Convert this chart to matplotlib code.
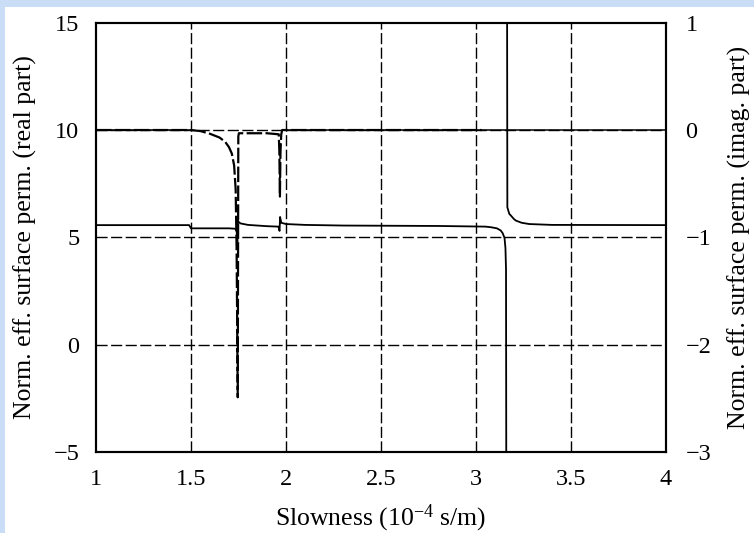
import numpy as np
import matplotlib
matplotlib.use("Agg")
import matplotlib.pyplot as plt
from matplotlib.patches import Rectangle

# ---------------- data ----------------
# real part (left axis), solid; NaN separates the two branches of the pole near 3.16
real_x = [1.0, 1.49, 1.5, 1.6, 1.7, 1.735, 1.74, 1.744, 1.7445, 1.747, 1.76, 1.8, 1.85,
          1.9, 1.96, 1.966, 1.969, 1.975, 2.0, 2.1, 2.3, 2.8, 3.05, 3.08, 3.11, 3.13,
          3.14, 3.15, 3.155, 3.158, 3.16, np.nan,
          3.163, 3.165, 3.175, 3.185, 3.2, 3.21, 3.24, 3.28, 3.4, 4.0]
real_y = [5.57, 5.57, 5.42, 5.42, 5.42, 5.40, 5.3, 4.8, 5.85, 5.75, 5.65, 5.58, 5.55,
          5.52, 5.5, 5.3, 5.95, 5.68, 5.62, 5.58, 5.55, 5.53, 5.5, 5.47, 5.42, 5.32,
          5.2, 4.98, 4.5, 3.5, -10.0, np.nan,
          20.0, 6.4, 6.1, 6.0, 5.85, 5.78, 5.68, 5.62, 5.58, 5.57]

# imaginary part (right axis), dashed
imag_x = [1.0, 1.5, 1.55, 1.6, 1.65, 1.68, 1.70, 1.715, 1.727, 1.735, 1.74, 1.746,
          1.749, 1.752, 1.8, 1.9, 1.962, 1.965, 1.968, 1.971, 1.975, 1.98, 2.5, 3.03]
imag_y = [0.0, 0.0, -0.01, -0.035, -0.07, -0.11, -0.16, -0.22, -0.33, -0.55, -1.1, -2.49,
          -0.06, -0.03, -0.03, -0.03, -0.04, -0.2, -0.62, -0.2, -0.04, 0.0, 0.0, 0.0]

# zero reference of the imaginary part (right axis), solid, absent between 1.5 and 2
zero_x = [1.0, 1.5, np.nan, 2.0, 4.0]
zero_y = [0.0, 0.0, np.nan, 0.0, 0.0]

xticks = [1, 1.5, 2, 2.5, 3, 3.5, 4]
xtick_labels = ["1", "1.5", "2", "2.5", "3", "3.5", "4"]
yticks_left = [-5, 0, 5, 10, 15]
yticks_right = [-3, -2, -1, 0, 1]
xlabel_text = r"Slowness (10$^{-4}$ s/m)"
ylabel_left = "Norm. eff. surface perm. (real part)"
ylabel_right = "Norm. eff. surface perm. (imag. part)"

# ---------------- figure ----------------
plt.rcParams['font.family'] = ['Liberation Serif', 'DejaVu Serif']
plt.rcParams['mathtext.fontset'] = 'custom'
plt.rcParams['mathtext.rm'] = 'Liberation Serif'
plt.rcParams['mathtext.it'] = 'Liberation Serif:italic'

fig = plt.figure(figsize=(7.54, 5.33), dpi=100)
fig.patch.set_facecolor('white')
# light blue frame strips
fig.add_artist(Rectangle((0, 1 - 7 / 533), 1, 7 / 533, transform=fig.transFigure,
                         facecolor='#c9def6', edgecolor='none', zorder=-1))
fig.add_artist(Rectangle((0, 0), 5 / 754, 1, transform=fig.transFigure,
                         facecolor='#c9def6', edgecolor='none', zorder=-1))

ax = fig.add_axes([96 / 754, 1 - 452 / 533, 570 / 754, (452 - 22.7) / 533])
ax.set_xlim(1, 4)
ax.set_ylim(-5, 15)
ax2 = ax.twinx()
ax2.set_ylim(-3, 1)

grid_kw = dict(color='black', lw=1.0, dashes=(8, 2.5), zorder=1)
for gx in [1.5, 2, 2.5, 3, 3.5]:
    ax.axvline(gx, **grid_kw)
for gy in [0, 5, 10]:
    ax.axhline(gy, **grid_kw)

ax.plot(real_x, real_y, color='black', lw=1.3, zorder=3)
ax2.plot(zero_x, zero_y, color='black', lw=1.1, zorder=3)
ax2.plot(imag_x, imag_y, color='black', lw=1.6, dashes=(7, 1.5), zorder=3)

ax.set_xticks(xticks)
ax.set_xticklabels(xtick_labels)
ax.set_yticks(yticks_left)
ax2.set_yticks(yticks_right)
ax2.set_yticklabels([("\u2212" + str(abs(v))) if v < 0 else str(v) for v in yticks_right])
ax.set_yticklabels([("\u2212" + str(abs(v))) if v < 0 else str(v) for v in yticks_left])

for a in (ax, ax2):
    a.tick_params(length=0, labelsize=17.5)
    for s in a.spines.values():
        s.set_linewidth(1.5)
ax.tick_params(axis='x', pad=12)
ax.tick_params(axis='y', pad=12)
ax2.tick_params(axis='y', pad=14)

ax.set_xlabel(xlabel_text, fontsize=18.5, labelpad=9)
ax.set_ylabel(ylabel_left, fontsize=18.5, labelpad=12)
ax2.set_ylabel(ylabel_right, fontsize=18.5, labelpad=12)

fig.savefig("out.png", dpi=100)
